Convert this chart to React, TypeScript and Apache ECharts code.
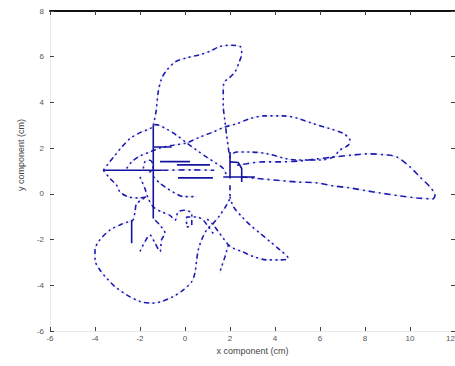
import React, { useEffect, useRef } from "react";
import * as echarts from "echarts";

// Axis ticks
const xTicks = { min: -6, max: 12, step: 2 };
const yTicks = { min: -6, max: 8, step: 2 };

// Trajectory pieces (x, y in cm)
const outerArcAndDiagonal: number[][] = [
  [-3.63, 1.03], [-3.41, 1.32], [-3.11, 1.69], [-2.81, 2.05], [-2.44, 2.42], [-2.0, 2.68],
  [-1.56, 2.85], [-1.29, 3.03], [-0.81, 2.83], [-0.37, 2.56], [0.07, 2.23], [0.52, 1.91],
  [0.96, 1.61], [1.41, 1.32], [1.7, 1.11], [1.85, 0.81],
];
const topLobe: number[][] = [
  [-1.41, 3.0], [-1.29, 3.58], [-1.19, 4.46], [-1.04, 5.04], [-0.81, 5.41], [-0.44, 5.77],
  [0.07, 5.95], [0.67, 6.09], [1.11, 6.24], [1.56, 6.45], [2.07, 6.5], [2.47, 6.43],
  [2.52, 6.13], [2.41, 5.77], [2.22, 5.33], [1.93, 5.04], [1.73, 4.87], [1.7, 4.46],
  [1.7, 3.87], [1.78, 3.15], [1.85, 2.56], [1.93, 1.98], [2.0, 1.54],
];
const upperRightLobe: number[][] = [
  [-2.59, 1.11], [-2.37, 1.4], [-2.0, 1.66], [-1.56, 1.83], [-1.11, 2.01], [-0.52, 2.13],
  [0.07, 2.23], [0.67, 2.49], [1.26, 2.71], [1.78, 2.93], [2.3, 3.07], [2.89, 3.29],
  [3.48, 3.41], [4.37, 3.41], [4.96, 3.32], [5.7, 3.07], [6.44, 2.85], [7.04, 2.64],
  [7.33, 2.34], [7.26, 2.13], [6.89, 1.92], [6.58, 1.61], [6.0, 1.48], [5.56, 1.48],
  [4.98, 1.48], [4.53, 1.53], [3.63, 1.76], [2.89, 1.83], [2.3, 1.83], [2.0, 1.69],
];
const rightLobe: number[][] = [
  [2.52, 0.74], [3.47, 0.65], [4.98, 0.52], [5.87, 0.48], [6.58, 0.35], [7.33, 0.26],
  [8.09, 0.13], [8.67, 0.04], [9.56, -0.09], [10.31, -0.18], [11.02, -0.22], [11.11, -0.06],
  [10.89, 0.3], [10.44, 0.74], [10.0, 1.18], [9.42, 1.61], [8.98, 1.7], [8.09, 1.75],
  [7.47, 1.7], [6.58, 1.61], [5.87, 1.53], [5.11, 1.44], [4.22, 1.4], [3.47, 1.4],
  [2.74, 1.32], [2.3, 1.25],
];
const leftWiggle: number[][] = [
  [-3.63, 1.03], [-3.33, 0.67], [-3.04, 0.38], [-2.89, 0.08], [-2.52, -0.13], [-2.07, -0.18],
  [-1.7, -0.13], [-2.15, -0.43], [-2.22, -0.79], [-2.3, -1.15],
];
const bottomLeftLobe: number[][] = [
  [-2.3, -1.15], [-2.89, -1.36], [-3.33, -1.58], [-3.78, -2.01], [-4.0, -2.45], [-4.0, -2.89],
  [-3.78, -3.33], [-3.48, -3.69], [-3.11, -4.06], [-2.59, -4.42], [-2.0, -4.71], [-1.48, -4.78],
  [-1.04, -4.71], [-0.52, -4.49], [-0.07, -4.2], [0.3, -3.84], [0.44, -3.47], [0.52, -2.89],
  [0.59, -2.45], [0.74, -2.01], [0.96, -1.58], [1.26, -1.29], [1.56, -0.92], [1.85, -0.48],
  [2.0, -0.12], [2.0, 0.38],
];
const bottomRightLobe: number[][] = [
  [2.0, -0.12], [2.15, -0.56], [2.52, -0.99], [2.89, -1.36], [3.33, -1.72], [3.78, -2.09],
  [4.22, -2.45], [4.59, -2.82], [4.22, -2.89], [3.63, -2.89], [3.04, -2.74], [2.52, -2.52],
  [2.15, -2.38], [1.93, -2.23], [1.7, -1.94], [1.48, -1.65], [1.26, -1.36], [0.96, -1.08],
];
const tail: number[][] = [[1.93, -2.23], [1.85, -2.5], [1.78, -2.74], [1.63, -3.18], [1.53, -3.47]];
const zigzag: number[][] = [
  [-2.0, -2.52], [-1.78, -2.09], [-1.56, -1.8], [-1.33, -2.16], [-1.11, -2.52], [-1.04, -2.01],
  [-0.89, -1.72], [-1.11, -1.37], [-1.41, -1.08],
];
const centerA: number[][] = [
  [-2.0, 0.74], [-1.78, 0.23], [-1.63, -0.21], [-1.41, -0.57], [-1.04, -0.79], [-0.67, -0.94],
  [-0.44, -1.15], [-0.3, -0.79], [0.0, -0.72], [0.3, -0.86], [0.3, -1.37], [0.07, -1.45],
  [0.07, -1.01], [0.52, -1.01], [0.81, -1.15], [1.04, -1.45], [1.26, -1.74],
];
const centerB: number[][] = [
  [-1.41, 0.76], [-1.11, 0.46], [-0.81, 0.25], [-0.44, 0.03], [-0.07, -0.12], [0.52, -0.12],
];
const smallLoop: number[][] = [
  [-1.85, 1.11], [-1.78, 1.4], [-1.56, 1.47], [-1.41, 1.25], [-1.48, 1.0], [-1.7, 0.95],
];
const midLine: number[][] = [[-1.0, 1.03], [0.3, 1.05], [1.3, 1.03]];

// Straight (solid-looking) strokes
const solidStrokes: number[][][] = [
  [[-1.41, 3.0], [-1.41, -1.08]],
  [[-3.63, 1.03], [-1.0, 1.03]],
  [[2.0, 1.83], [2.0, 0.67]],
  [[1.7, 0.74], [3.11, 0.74]],
  [[-1.41, 2.05], [-0.59, 2.05]],
  [[-1.11, 1.41], [0.22, 1.41]],
  [[-0.36, 1.27], [1.11, 1.27]],
  [[-0.31, 0.7], [1.24, 0.7]],
  [[-2.37, -1.14], [-2.37, -2.16]],
  [[2.0, 1.4], [2.37, 1.37], [2.52, 1.11], [2.52, 0.52]],
];

const dottedPieces = [
  outerArcAndDiagonal, topLobe, upperRightLobe, leftWiggle, bottomLeftLobe,
  bottomRightLobe, tail, zigzag, centerA, centerB, smallLoop,
];
const dashDotPieces = [rightLobe, midLine];

const BLUE = "#1c1cb0";
const FAINT = "#dcdcf6";
const FONT = "Liberation Sans, Arial, sans-serif";

export default function App() {
  const ref = useRef<HTMLDivElement>(null);
  useEffect(() => {
    if (!ref.current) return;
    const chart = echarts.init(ref.current, undefined, { renderer: "svg" });
    const series: any[] = [];
    const allCurves = [...dottedPieces, ...dashDotPieces];
    allCurves.forEach((d, i) =>
      series.push({
        type: "line",
        name: "trace" + i,
        data: d,
        showSymbol: false,
        symbol: "none",
        smooth: 0.3,
        lineStyle: { color: FAINT, width: 1, type: "solid" },
        silent: true,
      })
    );
    dottedPieces.forEach((d, i) =>
      series.push({
        type: "line",
        name: "trajectory" + i,
        data: d,
        showSymbol: false,
        symbol: "none",
        smooth: 0.3,
        lineStyle: { color: BLUE, width: 1.6, type: [2, 3.5, 2, 3.5, 5, 3.5] },
        silent: true,
      })
    );
    dashDotPieces.forEach((d, i) =>
      series.push({
        type: "line",
        name: "dashdot" + i,
        data: d,
        showSymbol: false,
        symbol: "none",
        smooth: 0.3,
        lineStyle: { color: BLUE, width: 1.6, type: [6, 4, 2, 4] },
        silent: true,
      })
    );
    solidStrokes.forEach((d, i) =>
      series.push({
        type: "line",
        name: "stroke" + i,
        data: d,
        showSymbol: false,
        symbol: "none",
        lineStyle: { color: "#1414a0", width: 1.6, type: "solid" },
        silent: true,
      })
    );
    const tickStyle = { inside: true, length: 4, lineStyle: { color: "#444", width: 1 } };
    chart.setOption({
      animation: false,
      backgroundColor: "#ffffff",
      textStyle: { fontFamily: FONT },
      grid: { left: 50, right: 0, top: 11, bottom: 35, containLabel: false, outerBoundsMode: "none" },
      xAxis: [
        {
          type: "value",
          position: "bottom",
          min: xTicks.min,
          max: xTicks.max,
          interval: xTicks.step,
          axisLine: { show: true, onZero: false, lineStyle: { color: "#e8e8e8", width: 1 } },
          axisTick: tickStyle,
          axisLabel: {
            fontSize: 8,
            color: "#555",
            margin: 3,
            fontFamily: FONT,
            hideOverlap: false,
            alignMaxLabel: "right",
          },
          splitLine: { show: false },
          name: "x component (cm)",
          nameLocation: "middle",
          nameGap: 15,
          nameTextStyle: { fontSize: 9, color: "#444", fontFamily: FONT },
        },
        {
          type: "value",
          position: "top",
          min: xTicks.min,
          max: xTicks.max,
          interval: xTicks.step,
          axisLine: { show: true, onZero: false, lineStyle: { color: "#111", width: 2 } },
          axisTick: tickStyle,
          axisLabel: { show: false },
          splitLine: { show: false },
        },
      ],
      yAxis: [
        {
          type: "value",
          position: "left",
          min: yTicks.min,
          max: yTicks.max,
          interval: yTicks.step,
          axisLine: { show: true, onZero: false, lineStyle: { color: "#e8e8e8", width: 1 } },
          axisTick: tickStyle,
          axisLabel: { fontSize: 8, color: "#555", margin: 6, fontFamily: FONT },
          splitLine: { show: false },
        },
        {
          type: "value",
          position: "right",
          min: yTicks.min,
          max: yTicks.max,
          interval: yTicks.step,
          axisLine: { show: true, onZero: false, lineStyle: { color: "#e8e8e8", width: 1 } },
          axisTick: tickStyle,
          axisLabel: { show: false },
          splitLine: { show: false },
        },
      ],
      graphic: [
        {
          type: "text",
          x: 21,
          y: 155,
          rotation: Math.PI / 2,
          style: {
            text: "y component (cm)",
            fontSize: 9,
            fill: "#444",
            fontFamily: FONT,
            textAlign: "center",
            textVerticalAlign: "middle",
          },
        },
      ],
      series,
    });
    return () => chart.dispose();
  }, []);
  return (
    <div
      ref={ref}
      style={{ position: "absolute", left: 0, top: 0, width: 455, height: 366 }}
    />
  );
}
